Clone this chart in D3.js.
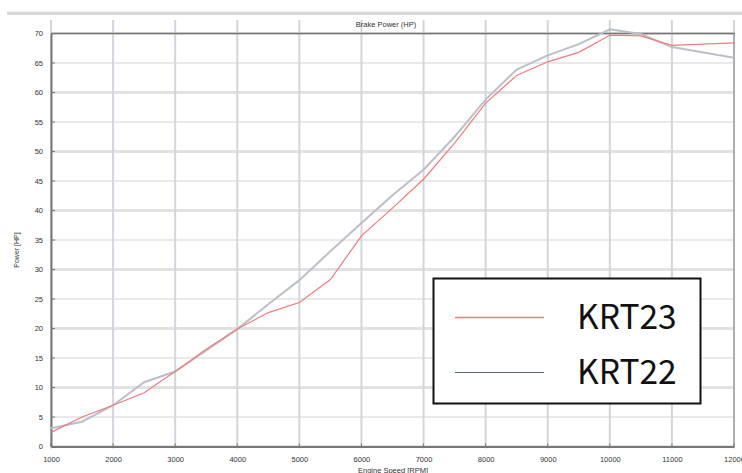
<!DOCTYPE html>
<html><head><meta charset="utf-8">
<script src="https://cdn.jsdelivr.net/npm/d3@7"></script>
<style>
html,body{margin:0;padding:0;background:#fff;}
svg{display:block;font-family:"Liberation Sans",Arial,sans-serif;}
</style></head>
<body><svg id="chart" width="742" height="473"></svg>
<script>
const rpm   = [1000,1500,2000,2500,3000,3500,4000,4500,5000,5500,6000,6500,7000,7500,8000,8500,9000,9500,10000,10500,11000,12000];
const krt23 = [2.4,5.0,7.0,9.1,12.7,16.5,19.9,22.7,24.4,28.3,35.7,40.4,45.3,51.4,58.2,62.9,65.2,66.8,69.7,69.6,68.0,68.4];
const krt22 = [3.1,4.2,7.0,10.9,12.7,16.3,19.9,24.1,28.2,33.1,37.9,42.6,46.9,52.5,58.8,63.9,66.3,68.2,70.7,69.9,67.7,65.9];
const xTicks = [1000,2000,3000,4000,5000,6000,7000,8000,9000,10000,11000,12000];
const yTicks = [0,5,10,15,20,25,30,35,40,45,50,55,60,65,70];
const seriesNames = ["KRT23","KRT22"];
const seriesLine = ["#f27b7b","#bcbfc9"];
const legendLine = ["#f27b7b","#5b6a8c"];
const title = "Brake Power (HP)";
const xTitle = "Engine Speed [RPM]";
const yTitle = "Power [HP]";

const svg = d3.select("#chart");
const L = 51, R = 734, T = 33.5, B = 446.5;
const x = d3.scaleLinear().domain([1000,12000]).range([L,R]);
const y = d3.scaleLinear().domain([0,70]).range([B,T]);

// top band
svg.append("rect").attr("x",7).attr("y",11.5).attr("width",735).attr("height",3.5).attr("fill","#d9d9d9");

// horizontal grid
svg.append("g").selectAll("line").data(yTicks).join("line")
  .attr("x1",L).attr("x2",R).attr("y1",d=>y(d)).attr("y2",d=>y(d))
  .attr("stroke","#e2e2e2").attr("stroke-width",d=>d%10===0?3:1.5);

// vertical grid
svg.append("g").selectAll("line").data(xTicks).join("line")
  .attr("x1",d=>x(d)).attr("x2",d=>x(d)).attr("y1",20).attr("y2",B+2)
  .attr("stroke","#d2d5dc").attr("stroke-width",2);

// frame
svg.append("line").attr("x1",L).attr("x2",R+1).attr("y1",T).attr("y2",T).attr("stroke","#777").attr("stroke-width",1.5);
svg.append("line").attr("x1",R).attr("x2",R).attr("y1",T).attr("y2",B).attr("stroke","#888").attr("stroke-width",1);

// axes
const yAxis = d3.axisLeft(y).tickValues(yTicks).tickSize(0).tickPadding(8);
const gy = svg.append("g").attr("transform",`translate(${L},0)`).call(yAxis);
gy.select(".domain").attr("stroke","#777").attr("stroke-width",2);
gy.selectAll("text").attr("font-size",7.5).attr("fill","#333");
svg.append("g").selectAll("line").data(yTicks).join("line")
  .attr("x1",L).attr("x2",L+4).attr("y1",d=>y(d)).attr("y2",d=>y(d)).attr("stroke","#777").attr("stroke-width",1);

const xAxis = d3.axisBottom(x).tickValues(xTicks).tickSize(0).tickPadding(10).tickFormat(d3.format("d"));
const gx = svg.append("g").attr("transform",`translate(0,${B})`).call(xAxis);
gx.select(".domain").attr("stroke","#777").attr("stroke-width",2);
gx.selectAll("text").attr("font-size",7.5).attr("fill","#333");
svg.append("g").selectAll("line").data(xTicks).join("line")
  .attr("x1",d=>x(d)).attr("x2",d=>x(d)).attr("y1",B-3).attr("y2",B).attr("stroke","#777").attr("stroke-width",1);

// titles
svg.append("text").attr("x",386).attr("y",27).attr("text-anchor","middle").attr("font-size",7.5).attr("fill","#333").text(title);
svg.append("text").attr("x",393).attr("y",473).attr("text-anchor","middle").attr("font-size",7.5).attr("fill","#333").text(xTitle);
svg.append("text").attr("transform","translate(19,250) rotate(-90)").attr("text-anchor","middle").attr("font-size",7).attr("fill","#333").text(yTitle);

// lines
const line = d3.line().x((d,i)=>x(rpm[i])).y(d=>y(d));
svg.append("path").datum(krt22).attr("d",line).attr("fill","none").attr("stroke",seriesLine[1]).attr("stroke-width",2);
svg.append("path").datum(krt23).attr("d",line).attr("fill","none").attr("stroke",seriesLine[0]).attr("stroke-width",1.2);

// legend
const lg = svg.append("g");
lg.append("rect").attr("x",433.5).attr("y",278.5).attr("width",267).attr("height",125).attr("fill","#fff").attr("stroke","#111").attr("stroke-width",2);
seriesNames.forEach((n,i)=>{
  const ly = 317.5 + i*55;
  lg.append("line").attr("x1",455).attr("x2",544).attr("y1",ly).attr("y2",ly).attr("stroke",legendLine[i]).attr("stroke-width",i===0?1.5:1);
  lg.append("text").attr("x",577).attr("y",ly+11.5).attr("font-size",33.5)
    .attr("font-family","'Noto Sans CJK JP','Noto Sans',sans-serif").attr("fill","#111").text(n);
});
</script></body></html>
